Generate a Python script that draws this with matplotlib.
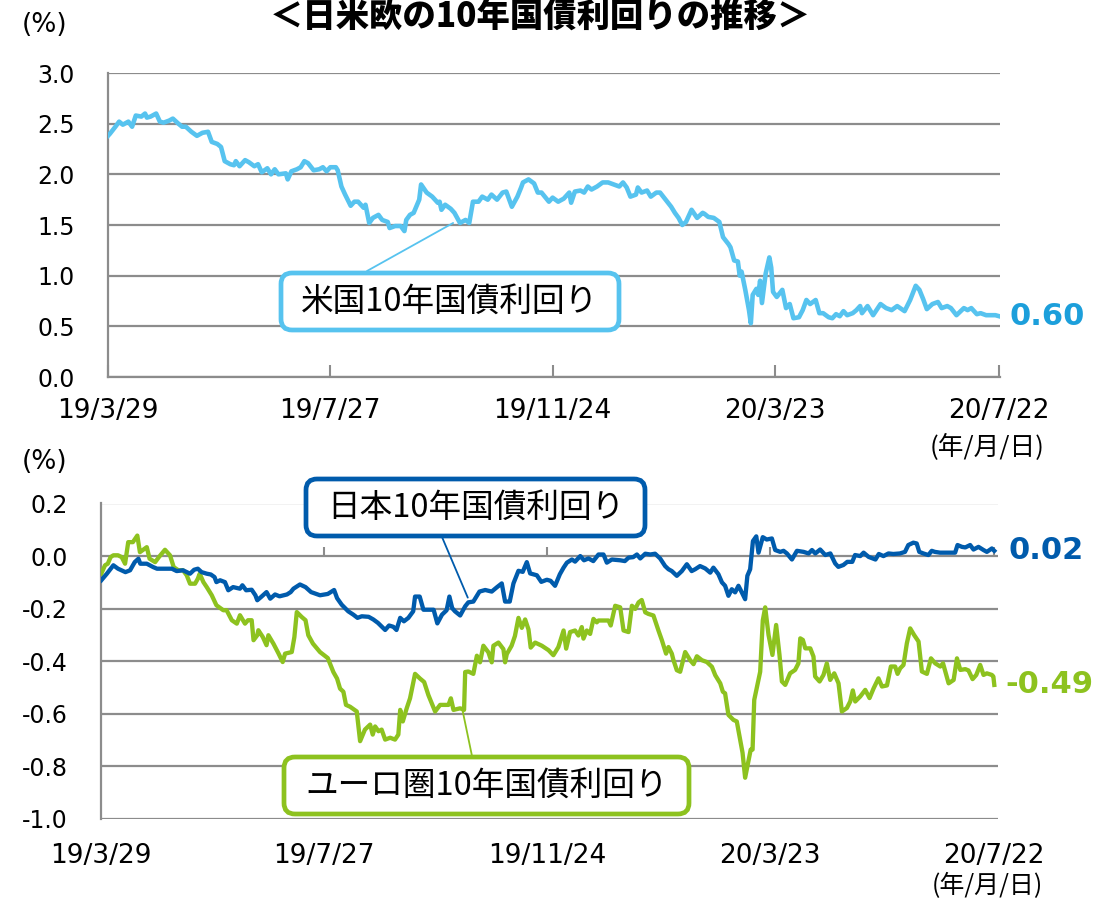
import matplotlib
matplotlib.use('Agg')
import matplotlib.pyplot as plt
import matplotlib.dates as mdates
from matplotlib.patches import FancyBboxPatch
from matplotlib.transforms import IdentityTransform
import numpy as np

plt.rcParams['font.family'] = ['DejaVu Sans']
CJK = ['Noto Sans CJK JP', 'DejaVu Sans']

# ---------------- data ----------------
start_date = '2019-03-29'
tick_dates = ['2019-03-29', '2019-07-27', '2019-11-24', '2020-03-23', '2020-07-22']
tick_labels = ['19/3/29', '19/7/27', '19/11/24', '20/3/23', '20/7/22']

# days since 2019-03-29, US 10y yield (%)
us_days = [0, 1, 4, 6, 8, 11, 13, 15, 18, 20, 21, 23, 26, 28, 30, 33, 35, 38, 40, 42,
           45, 48, 51, 54, 56, 59, 61, 63, 66, 68, 69, 71, 74, 76, 79, 81, 83, 86, 88, 90,
           92, 96, 97, 99, 102, 104, 106, 108, 111, 114, 116, 118, 120, 123, 124, 126, 128, 131, 133, 135,
           138, 139, 141, 143, 146, 148, 151, 152, 155, 158, 160, 161, 163, 165, 168, 169, 172, 175, 178, 179,
           180, 182, 185, 187, 190, 193, 195, 197, 200, 202, 205, 207, 210, 213, 215, 218, 221, 223, 224, 227,
           230, 232, 234, 238, 240, 243, 246, 249, 250, 252, 255, 257, 259, 261, 264, 267, 270, 273, 276, 278,
           280, 282, 285, 286, 288, 291, 293, 296, 298, 301, 304, 306, 308, 310, 312, 315, 318, 321, 322, 324,
           327, 330, 332, 335, 336, 338, 340, 341, 342, 344, 346, 347, 348, 350, 351, 352, 353, 355, 357, 358,
           359, 361, 364, 366, 368, 370, 373, 375, 377, 379, 382, 384, 386, 389, 391, 393, 395, 397, 399, 402,
           404, 406, 407, 410, 413, 417, 420, 423, 426, 430, 433, 436, 438, 440, 442, 445, 448, 450, 453, 455,
           458, 462, 464, 466, 469, 471, 474, 479, 481]
us_yield = [2.38, 2.40, 2.47, 2.52, 2.49, 2.52, 2.47, 2.58, 2.57, 2.60, 2.56, 2.57, 2.60, 2.52, 2.51, 2.53, 2.55, 2.50, 2.47, 2.47,
            2.42, 2.38, 2.41, 2.42, 2.32, 2.30, 2.27, 2.13, 2.10, 2.09, 2.13, 2.08, 2.14, 2.12, 2.08, 2.10, 2.02, 2.06, 2.00, 2.05,
            2.00, 2.01, 1.95, 2.03, 2.05, 2.07, 2.13, 2.11, 2.04, 2.05, 2.07, 2.03, 2.07, 2.07, 2.04, 1.88, 1.80, 1.69, 1.73, 1.73,
            1.67, 1.70, 1.52, 1.57, 1.60, 1.55, 1.53, 1.47, 1.49, 1.49, 1.44, 1.55, 1.60, 1.62, 1.75, 1.90, 1.82, 1.78, 1.72, 1.73,
            1.65, 1.70, 1.66, 1.62, 1.52, 1.55, 1.52, 1.73, 1.73, 1.78, 1.75, 1.80, 1.75, 1.82, 1.83, 1.68, 1.78, 1.87, 1.92, 1.95,
            1.91, 1.82, 1.82, 1.73, 1.77, 1.73, 1.76, 1.82, 1.72, 1.83, 1.84, 1.82, 1.88, 1.85, 1.88, 1.92, 1.92, 1.90, 1.88, 1.92,
            1.87, 1.78, 1.80, 1.87, 1.82, 1.84, 1.78, 1.82, 1.82, 1.75, 1.68, 1.62, 1.57, 1.50, 1.53, 1.65, 1.57, 1.62, 1.61, 1.58,
            1.57, 1.53, 1.38, 1.31, 1.28, 1.15, 1.14, 1.00, 1.04, 0.86, 0.66, 0.53, 0.81, 0.87, 0.81, 0.95, 0.73, 1.02, 1.18, 1.08,
            0.84, 0.79, 0.86, 0.68, 0.72, 0.58, 0.59, 0.66, 0.76, 0.72, 0.76, 0.63, 0.63, 0.59, 0.58, 0.62, 0.60, 0.65, 0.61, 0.63,
            0.66, 0.70, 0.63, 0.70, 0.61, 0.72, 0.68, 0.66, 0.70, 0.65, 0.76, 0.90, 0.86, 0.77, 0.67, 0.72, 0.74, 0.68, 0.70, 0.68,
            0.61, 0.68, 0.66, 0.68, 0.62, 0.63, 0.61, 0.61, 0.60]

# days since 2019-03-29, Japan 10y yield (%)
jp_days = [0, 3, 6.5, 9, 13, 15.5, 18, 20, 21, 24.5, 28, 30, 35, 38, 40.6, 44, 47.8, 50, 52, 54,
           56.8, 59, 61, 62, 64, 66.6, 68.4, 71, 74.7, 76, 78, 81, 83, 84, 86, 89, 91, 93.6, 96, 100,
           102, 103.5, 107, 110, 113, 117.8, 122, 125.4, 127, 129.5, 133, 135.8, 138, 140.3, 144, 146.5, 149, 152.9, 155, 157.3,
           159, 161, 163, 165.4, 168, 169, 171.5, 173.5, 177, 179, 181, 183.5, 186, 187.5, 189, 190.5, 193.3, 196, 197.7, 200.4,
           203.7, 206.8, 210.3, 213, 215.7, 217.5, 220, 222, 224.7, 227, 229.2, 231, 234.6, 237, 240, 242, 244.4, 247, 249, 250.8,
           253.5, 255.2, 258, 260, 262.4, 265, 267.8, 270.5, 272.3, 275, 279.5, 282, 284, 286.5, 288.5, 290.3, 293, 295.7, 298.3, 301,
           303.7, 305.5, 307.3, 310, 312.7, 315.4, 318, 319.9, 322.5, 325.3, 328, 329.7, 332.4, 334.3, 336, 337.8, 339.6, 341.4, 343.2, 345,
           346.8, 348, 349.5, 351, 352.8, 354, 356.3, 358.4, 361.2, 363, 365.7, 367.5, 369.3, 372, 374.7, 378.3, 381, 382.8, 384.6, 387.2,
           390, 392.7, 395.3, 397, 399.7, 401.8, 404.5, 406, 408.8, 410.6, 413.3, 417, 418.8, 421.3, 424, 426.6, 430.2, 432.9, 434.7, 437.4,
           439.2, 440.6, 442.8, 445.5, 447.3, 449, 451.8, 455.4, 459.9, 461.2, 463.6, 465.4, 468, 469.8, 472.5, 475.2, 477, 479.7, 481]
jp_yield = [-0.092, -0.067, -0.035, -0.048, -0.061, -0.054, -0.023, -0.010, -0.029, -0.029, -0.042, -0.048, -0.048, -0.048, -0.057, -0.054, -0.067, -0.052, -0.048, -0.061,
            -0.067, -0.070, -0.080, -0.099, -0.092, -0.099, -0.130, -0.118, -0.124, -0.111, -0.130, -0.128, -0.149, -0.168, -0.156, -0.137, -0.162, -0.146, -0.153, -0.146,
            -0.137, -0.124, -0.108, -0.118, -0.137, -0.149, -0.144, -0.129, -0.160, -0.185, -0.210, -0.223, -0.235, -0.229, -0.231, -0.241, -0.254, -0.281, -0.264, -0.269,
            -0.281, -0.235, -0.248, -0.235, -0.210, -0.154, -0.154, -0.204, -0.204, -0.204, -0.256, -0.223, -0.206, -0.154, -0.198, -0.210, -0.226, -0.191, -0.176, -0.173,
            -0.135, -0.129, -0.135, -0.119, -0.104, -0.173, -0.173, -0.104, -0.056, -0.060, -0.023, -0.066, -0.073, -0.098, -0.090, -0.094, -0.113, -0.069, -0.044, -0.025,
            -0.013, -0.021, 0.000, -0.016, -0.009, -0.019, 0.006, 0.006, -0.025, -0.013, -0.016, -0.019, -0.006, -0.004, 0.006, -0.009, 0.009, 0.006, 0.009, -0.009,
            -0.038, -0.050, -0.057, -0.075, -0.057, -0.031, -0.057, -0.050, -0.038, -0.047, -0.063, -0.044, -0.069, -0.100, -0.113, -0.151, -0.126, -0.138, -0.113, -0.138,
            -0.164, -0.075, -0.050, 0.057, 0.075, 0.013, 0.072, 0.063, 0.067, 0.023, 0.016, 0.020, 0.010, -0.013, 0.020, 0.016, 0.010, 0.023, 0.010, 0.025,
            0.004, 0.010, -0.028, -0.041, -0.034, -0.022, -0.022, 0.004, 0.000, 0.013, -0.003, -0.013, 0.008, 0.000, 0.010, 0.008, 0.010, 0.016, 0.042, 0.051,
            0.048, 0.016, 0.010, 0.004, 0.020, 0.016, 0.013, 0.013, 0.013, 0.042, 0.035, 0.033, 0.042, 0.025, 0.035, 0.023, 0.016, 0.029, 0.020]

# days since 2019-03-29, Euro area (German) 10y yield (%)
eu_days = [0, 2, 3.5, 5, 6.5, 9, 11, 12.8, 14.5, 17, 19.4, 20.8, 24.5, 26, 29, 31, 34.3, 37, 39, 41.5,
           44, 46, 47.8, 50.5, 52, 53, 55, 56.8, 59.5, 62, 65.7, 67.5, 70.3, 73, 74.7, 77.4, 79, 81, 82, 84,
           84.6, 87, 89, 90, 92.7, 95.5, 97.7, 99, 102.6, 104, 105.3, 108, 110, 111.5, 114, 117.8, 122, 125, 127, 128.6,
           130.4, 131.8, 134, 137.6, 139.4, 142, 144.8, 146.2, 147.5, 149.3, 151, 152.9, 155.6, 158.2, 160, 161, 162.4, 164.5, 166.3, 169,
           171.7, 173.9, 176.2, 179.8, 182.5, 187, 188.3, 189.7, 193.3, 195.4, 196, 197.7, 200.4, 202.3, 204, 205.8, 208.5, 210.3, 211.2, 213.9,
           216.6, 217.5, 218.4, 221, 222.8, 224.7, 226.5, 228.3, 230.1, 231.3, 233.7, 237.3, 240.9, 243.5, 246.2, 249, 250.4, 252.5, 255.2, 257,
           258.8, 259.7, 261.5, 263.3, 265.1, 266.9, 267.8, 270.5, 273.2, 274.4, 276.8, 279.5, 281.3, 284, 285.8, 287.6, 289.4, 291.1, 293, 294.7,
           297.4, 300.1, 302, 304.2, 305.5, 307.3, 308.2, 310, 311.8, 314.5, 317.2, 319, 320.8, 323.5, 326.2, 328.9, 330.7, 333.4, 334.8, 336,
           337.8, 340.5, 342.3, 344.1, 345.4, 346.8, 348.6, 349.8, 350.8, 351.7, 353.2, 354.9, 356.3, 357.6, 359.4, 361.5, 363.5, 365.3, 366.6, 368.4,
           371, 373.7, 375.5, 376.5, 377.9, 379.2, 381.9, 383.6, 384.5, 386.9, 389, 390.8, 392.6, 394.8, 397.1, 398.9, 401.6, 403.4, 404.8, 406.1,
           408.8, 411.5, 413.8, 416, 418.6, 420.5, 423.2, 425.3, 427.6, 428.9, 430.3, 432.1, 433.9, 435.7, 437.8, 440.2, 442, 444.7, 446.9, 449.2,
           451.9, 453.4, 456.4, 459.1, 460.9, 462.7, 465.4, 467.1, 469.3, 471.3, 473.4, 475.2, 477, 479.7, 480.5, 481]
eu_yield = [-0.067, -0.035, -0.029, -0.004, 0.003, 0.003, -0.004, -0.029, 0.053, 0.053, 0.078, 0.015, 0.034, -0.010, -0.023, -0.004, 0.024, 0.003, -0.042, -0.054,
            -0.054, -0.073, -0.105, -0.105, -0.086, -0.067, -0.099, -0.118, -0.149, -0.187, -0.206, -0.206, -0.244, -0.257, -0.225, -0.257, -0.244, -0.244, -0.320, -0.301,
            -0.282, -0.308, -0.339, -0.301, -0.333, -0.371, -0.403, -0.371, -0.365, -0.308, -0.213, -0.232, -0.244, -0.301, -0.333, -0.365, -0.388, -0.441, -0.466, -0.504,
            -0.516, -0.566, -0.573, -0.591, -0.704, -0.660, -0.641, -0.679, -0.648, -0.666, -0.660, -0.698, -0.691, -0.698, -0.679, -0.585, -0.629, -0.579, -0.541, -0.448,
            -0.466, -0.479, -0.529, -0.591, -0.566, -0.566, -0.541, -0.585, -0.579, -0.585, -0.441, -0.439, -0.448, -0.379, -0.404, -0.341, -0.366, -0.404, -0.341, -0.329,
            -0.354, -0.404, -0.373, -0.341, -0.304, -0.235, -0.273, -0.241, -0.279, -0.348, -0.329, -0.341, -0.358, -0.377, -0.346, -0.283, -0.352, -0.289, -0.283, -0.302,
            -0.270, -0.314, -0.283, -0.296, -0.239, -0.252, -0.245, -0.245, -0.245, -0.264, -0.189, -0.195, -0.283, -0.289, -0.189, -0.201, -0.176, -0.167, -0.214, -0.220,
            -0.226, -0.283, -0.321, -0.371, -0.346, -0.371, -0.396, -0.434, -0.440, -0.365, -0.396, -0.411, -0.381, -0.396, -0.403, -0.421, -0.453, -0.484, -0.516, -0.522,
            -0.604, -0.623, -0.629, -0.698, -0.748, -0.843, -0.780, -0.736, -0.736, -0.547, -0.497, -0.440, -0.245, -0.195, -0.300, -0.376, -0.262, -0.376, -0.477, -0.490,
            -0.446, -0.433, -0.408, -0.313, -0.319, -0.351, -0.351, -0.382, -0.458, -0.477, -0.452, -0.408, -0.471, -0.446, -0.484, -0.591, -0.578, -0.553, -0.511, -0.553,
            -0.534, -0.509, -0.540, -0.503, -0.465, -0.496, -0.492, -0.420, -0.420, -0.448, -0.427, -0.414, -0.332, -0.275, -0.300, -0.325, -0.439, -0.448, -0.389, -0.408,
            -0.420, -0.408, -0.484, -0.471, -0.389, -0.433, -0.430, -0.435, -0.468, -0.452, -0.414, -0.452, -0.446, -0.452, -0.458, -0.490]

us_yticks = [0.0, 0.5, 1.0, 1.5, 2.0, 2.5, 3.0]
lower_yticks = [-1.0, -0.8, -0.6, -0.4, -0.2, 0.0, 0.2]

title = '＜日米欧の10年国債利回りの推移＞'
us_name = '米国10年国債利回り'
jp_name = '日本10年国債利回り'
eu_name = 'ユーロ圏10年国債利回り'

# ---------------- styles ----------------
C_US = '#57C3EF'
C_US_LBL = '#1C9FDB'
C_JP = '#005BAC'
C_EU = '#8DC21F'
GRID = '#8C8C8C'

W, H = 1097, 899
fig = plt.figure(figsize=(W / 100, H / 100), dpi=100)
fig.patch.set_facecolor('white')

x0 = mdates.datestr2num(start_date)
xt = mdates.datestr2num(tick_dates)


def xs(days):
    return x0 + np.asarray(days, dtype=float)


def style_axis(ax, yticks, pad_x):
    for s in ['top', 'right']:
        ax.spines[s].set_visible(False)
    for s in ['left', 'bottom']:
        ax.spines[s].set_color(GRID)
        ax.spines[s].set_linewidth(1.6)
    ax.set_yticks(yticks)
    ax.set_yticklabels([f'{v:.1f}' for v in yticks])
    ax.yaxis.grid(True, color=GRID, lw=1.6)
    ax.set_axisbelow(True)
    ax.tick_params(axis='y', length=0, pad=24, labelsize=17, labelcolor='black')
    ax.set_xticks(xt)
    ax.set_xticklabels(tick_labels)
    ax.tick_params(axis='x', labelsize=19, pad=pad_x)


# ----- top panel: US -----
ax1 = fig.add_axes([108 / W, 1 - 377 / H, (1000 - 108) / W, (377 - 73) / H])
ax1.plot(xs(us_days), us_yield, color=C_US, lw=3.3, solid_joinstyle='round', zorder=3)
ax1.set_xlim(x0, x0 + 481.5)
ax1.set_ylim(0, 3.0)
style_axis(ax1, us_yticks, 15)
ax1.tick_params(axis='x', direction='in', length=9, width=1.5, color=GRID)
ax1.annotate(f'{us_yield[-1]:.2f}', xy=(xs([us_days[-1]])[0], us_yield[-1]), xytext=(10, 0),
             textcoords='offset pixels', va='center', ha='left', fontsize=22, fontweight='bold',
             color=C_US_LBL)

# ----- bottom panel: Japan & Euro -----
ax2 = fig.add_axes([101.3 / W, 1 - 819 / H, (998 - 101.3) / W, (819 - 503.5) / H])
ax2.plot(xs(eu_days), eu_yield, color=C_EU, lw=3.1, solid_joinstyle='round', zorder=3)
ax2.plot(xs(jp_days), jp_yield, color=C_JP, lw=3.1, solid_joinstyle='round', zorder=4)
ax2.set_xlim(x0, x0 + 483)
ax2.set_ylim(-1.0, 0.2)
style_axis(ax2, lower_yticks, 17)
ax2.spines['bottom'].set_visible(False)
ax2.tick_params(axis='x', length=0)
ax2.vlines(xt[1:], 0, 0.034, color=GRID, lw=1.5, zorder=2)
ax2.annotate(f'{jp_yield[-1]:.2f}', xy=(xs([jp_days[-1]])[0], jp_yield[-1]), xytext=(14, 0),
             textcoords='offset pixels', va='center', ha='left', fontsize=22, fontweight='bold',
             color=C_JP)
ax2.annotate(f'{eu_yield[-1]:.2f}', xy=(xs([eu_days[-1]])[0], eu_yield[-1]), xytext=(11, 0),
             textcoords='offset pixels', va='center', ha='left', fontsize=22, fontweight='bold',
             color=C_EU)

# ----- texts -----
fig.text(540 / W, 1 - 17 / H, title, family=CJK, fontsize=24, fontweight='heavy',
         ha='center', va='center')
fig.text(45 / W, 1 - 25 / H, '(%)', fontsize=19, ha='center', va='center')
fig.text(45 / W, 1 - 462 / H, '(%)', fontsize=19, ha='center', va='center')
fig.text(987 / W, 1 - 447 / H, '(年/月/日)', family=CJK, fontsize=18.5, ha='center', va='center')
fig.text(987 / W, 1 - 886 / H, '(年/月/日)', family=CJK, fontsize=18, ha='center', va='center')


# ----- callout boxes -----
def callout(x_left, y_top, w, h, color, text):
    box = FancyBboxPatch((x_left, H - y_top - h), w, h,
                         boxstyle='round,pad=0,rounding_size=11',
                         transform=IdentityTransform(), facecolor='white',
                         edgecolor=color, lw=3.4, zorder=10)
    fig.add_artist(box)
    fig.text((x_left + w / 2) / W, 1 - (y_top + h / 2) / H, text, family=CJK,
             fontsize=23.5, ha='center', va='center', zorder=11)


callout(281, 273, 338, 57, C_US, us_name)
callout(306, 479, 339, 57, C_JP, jp_name)
callout(284, 757, 405, 57, C_EU, eu_name)

# leader lines (from series point to box)
ax1.annotate('', xy=(xs([186.3])[0], 1.52), xytext=(367, H - 271), textcoords='figure pixels',
             arrowprops=dict(arrowstyle='-', color=C_US, lw=1.3, shrinkA=0, shrinkB=0), zorder=5)
ax2.annotate('', xy=(xs([197.4])[0], -0.158), xytext=(442, H - 537), textcoords='figure pixels',
             arrowprops=dict(arrowstyle='-', color=C_JP, lw=1.3, shrinkA=0, shrinkB=0), zorder=5)
ax2.annotate('', xy=(xs([194.5])[0], -0.584), xytext=(472, H - 756), textcoords='figure pixels',
             arrowprops=dict(arrowstyle='-', color=C_EU, lw=1.3, shrinkA=0, shrinkB=0), zorder=5)

fig.savefig('out.png', dpi=100, facecolor='white')
